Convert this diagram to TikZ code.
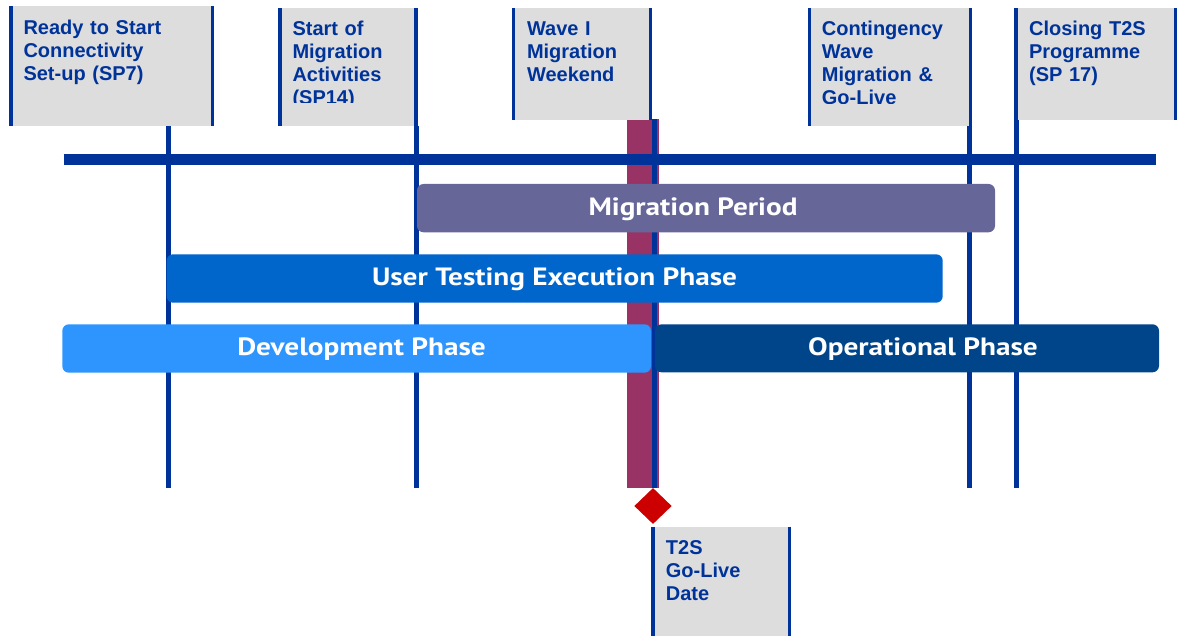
\documentclass[tikz,border=0pt]{standalone}
\usepackage{fontspec}
\setmainfont{Liberation Sans}
\newfontfamily\barfont[FakeStretch=1.17]{PT Sans}
\usetikzlibrary{shapes.geometric}
\definecolor{tsblue}{HTML}{003399}
\definecolor{boxgray}{HTML}{DDDDDD}
\definecolor{maroon}{HTML}{993366}
\definecolor{migcol}{HTML}{666699}
\definecolor{uatcol}{HTML}{0066CC}
\definecolor{devcol}{HTML}{2E95FF}
\definecolor{opcol}{HTML}{004589}
\definecolor{redd}{HTML}{CC0000}
\begin{document}
\begin{tikzpicture}[x=1pt,y=-1pt,
  lbox/.style={fill=boxgray, draw=none, anchor=north west, inner sep=0pt, outer sep=0pt},
  ltext/.style={anchor=base west, inner sep=0pt, align=left, text width=#1, text=tsblue,
    font=\bfseries\fontsize{20}{23}\selectfont},
  edgeline/.style={tsblue, line width=3.6pt},
  vline/.style={tsblue, line width=5pt},
  bar/.style={fill=#1, draw=none, rounded corners=6.5pt, inner sep=0pt, outer sep=0pt},
  bartext/.style={anchor=base, inner sep=0pt, text=white, font=\barfont\bfseries\fontsize{25}{30}\selectfont},
]
\useasboundingbox (0,0) rectangle (1177,636);

% maroon go-live band
\path[fill=maroon] (626.5,119) rectangle (658.5,487.7);
\node[inner sep=0pt, outer sep=0pt, minimum width=32pt, minimum height=368.7pt] (band) at (642.5,303.35) {};

% label boxes
\node[lbox, minimum width=201.5pt, minimum height=119.5pt] (b1) at (11,6.5) {};
\node[lbox, minimum width=136pt, minimum height=118pt] (b2) at (280,8.5) {};
\node[lbox, minimum width=137pt, minimum height=112pt] (b3) at (513.5,8.5) {};
\node[lbox, minimum width=161pt, minimum height=118pt] (b4) at (809.5,8.5) {};
\node[lbox, minimum width=159.5pt, minimum height=111.5pt] (b5) at (1016,8.5) {};
\node[lbox, minimum width=136.6pt, minimum height=109.3pt] (b6) at (652.7,526.7) {};

\foreach \b in {b1,b2,b3,b4,b5,b6}{
  \draw[edgeline] (\b.north west) -- (\b.south west);
  \draw[edgeline] (\b.north east) -- (\b.south east);
}

% label texts
\node[ltext=185pt] (t1) at (23.3,34.3) {Ready to Start\\Connectivity\\Set-up (SP7)};
\begin{scope}
  \clip (b2.north west) rectangle (416,102.7);
  \node[ltext=120pt] (t2) at (292.3,36) {Start of\\Migration\\Activities\\(SP14)};
\end{scope}
\node[ltext=120pt] (t3) at (526.8,36) {Wave I\\Migration\\Weekend};
\begin{scope}
  \clip (b4.north west) rectangle (970,103.3);
  \node[ltext=145pt] (t4) at (821.7,36) {Contingency\\Wave\\Migration \&\\Go-Live};
\end{scope}
\node[ltext=140pt] (t5) at (1028.9,36) {Closing T2S\\Programme\\(SP 17)};
\node[ltext=120pt] (t6) at (665.7,554.3) {T2S\\Go-Live\\Date};

% timeline
\coordinate (hl) at (63.5,160);
\coordinate (hr) at (1156,160);
\draw[tsblue, line width=11pt] (hl) -- (hr);

% vertical milestone lines
\coordinate (e1) at (168.5,487.5);
\coordinate (e2) at (416,487.5);
\coordinate (e3) at (654,487.5);
\coordinate (e4) at (969,487.5);
\coordinate (e5) at (1016,487.5);
\coordinate (s3) at (654,119);
\draw[vline] (b1.south -| e1) -- (e1);
\draw[vline] (b2.south -| e2) -- (e2);
\draw[vline] (s3) -- (e3);
\draw[vline] (b4.south -| e4) -- (e4);
\draw[vline] (b5.south -| e5) -- (e5);

% phase bars
\path[bar=migcol] (417,184) rectangle (995,232.3);
\path[bar=uatcol] (166.7,254.3) rectangle (942.7,302.7);
\path[bar=devcol] (62.3,324.3) rectangle (651,372.7);
\path[bar=opcol] (655,324.3) rectangle (1159,372.3);

\node[bartext] (mig) at (693,215.5) {Migration Period};
\node[bartext] (uat) at (554.5,285) {User Testing Execution Phase};
\node[bartext] (dev) at (361.5,355.7) {Development Phase};
\node[bartext] (op) at (923,355.7) {Operational Phase};

% go-live diamond
\node[diamond, fill=redd, inner sep=0pt, minimum width=37.4pt, minimum height=36pt] (gl) at (653,506) {};
\end{tikzpicture}
\end{document}
